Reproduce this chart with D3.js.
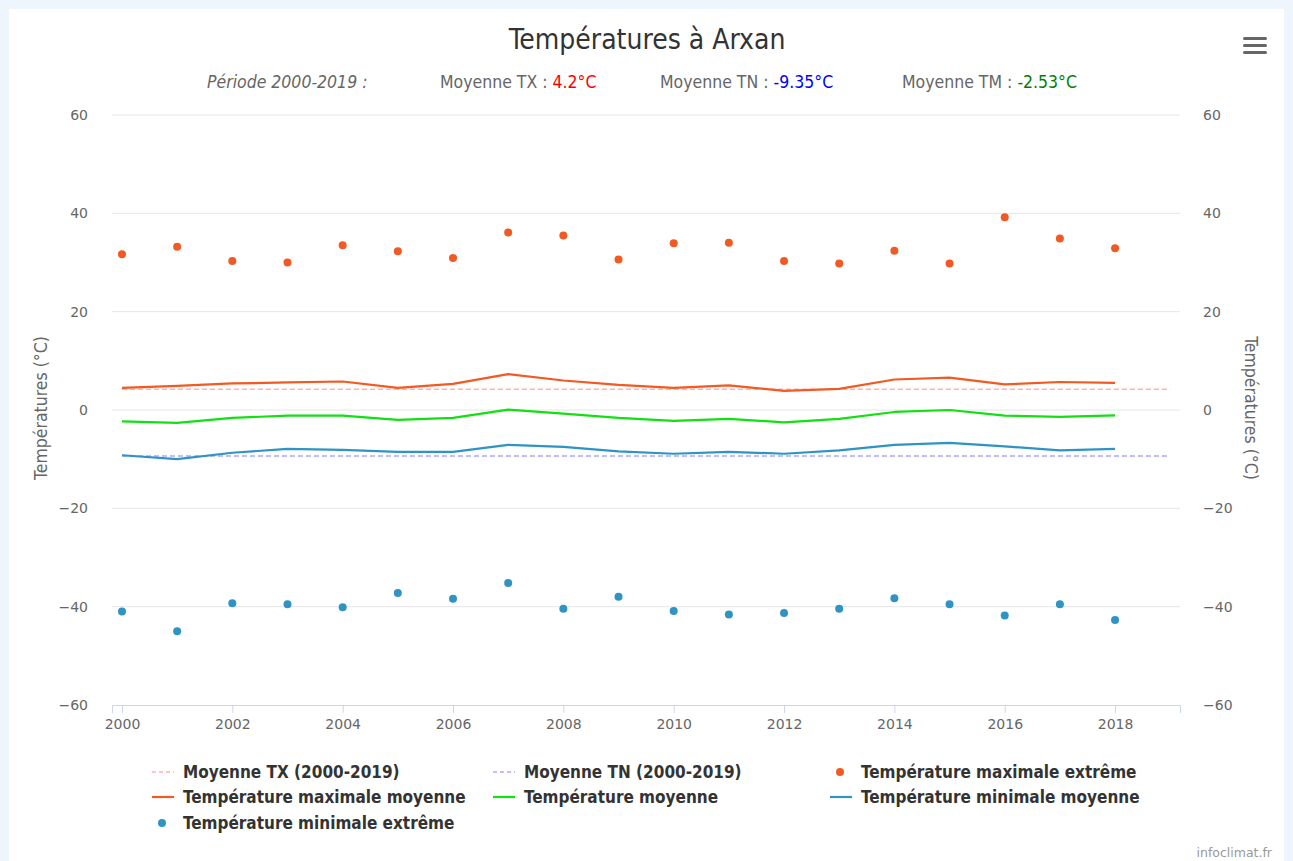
<!DOCTYPE html>
<html><head><meta charset="utf-8">
<script src="https://cdn.jsdelivr.net/npm/d3@7"></script>
<style>
html,body{margin:0;padding:0;background:#eef5fd;}
svg{display:block;}
</style></head>
<body>
<svg id="chart" width="1293" height="861"></svg>
<script>
const years = [2000,2001,2002,2003,2004,2005,2006,2007,2008,2009,2010,2011,2012,2013,2014,2015,2016,2017,2018];
const txExtreme = [31.7,33.2,30.3,30.0,33.5,32.3,30.9,36.1,35.5,30.6,33.9,34.0,30.3,29.8,32.4,29.8,39.2,34.9,32.9];
const txMean    = [4.5,4.9,5.4,5.6,5.8,4.5,5.3,7.3,6.0,5.1,4.5,5.0,3.9,4.3,6.2,6.6,5.2,5.7,5.5];
const tmMean    = [-2.3,-2.6,-1.6,-1.15,-1.15,-2.0,-1.6,0.07,-0.75,-1.6,-2.2,-1.8,-2.5,-1.8,-0.4,0.0,-1.15,-1.4,-1.1];
const tnMean    = [-9.2,-10.0,-8.7,-7.9,-8.1,-8.5,-8.5,-7.1,-7.5,-8.4,-8.9,-8.5,-8.9,-8.2,-7.1,-6.7,-7.4,-8.2,-7.9];
const tnExtreme = [-41.0,-45.0,-39.3,-39.5,-40.1,-37.2,-38.4,-35.2,-40.4,-38.0,-40.9,-41.6,-41.3,-40.4,-38.3,-39.5,-41.8,-39.5,-42.7];
const avgPeriod = [2000,2019];
const avgTX = 4.2, avgTN = -9.35, avgTM = -2.53;
const yTicks = [-60,-40,-20,0,20,40,60];
const xTicks = [2000,2002,2004,2006,2008,2010,2012,2014,2016,2018];
const titleText = "Températures à Arxan";
const axisTitle = "Températures (°C)";

const C = {tx:"#f15a22", tm:"#11e011", tn:"#2f93c4", avgTX:"#ffb0b0", avgTN:"#aaaaff"};
const condensed = "'DejaVu Sans Condensed','DejaVu Sans',sans-serif";

const svg = d3.select("#chart");
svg.append("rect").attr("x",9).attr("y",9).attr("width",1275).attr("height",852).attr("fill","#fff");

const L=112, R=1180, T=115, B=705;
const x = d3.scaleLinear().domain([1999.819, 2019.177]).range([L,R]);
const y = d3.scaleLinear().domain([-60,60]).range([B,T]);

// gridlines
svg.append("g").selectAll("line").data(yTicks.filter(d=>d>-60)).join("line")
  .attr("x1",L).attr("x2",R).attr("y1",d=>y(d)).attr("y2",d=>y(d))
  .attr("stroke","#e6e6e6").attr("stroke-width",1);

// x axis
const xAxis = d3.axisBottom(x).tickValues(xTicks).tickFormat(d3.format("d")).tickSizeOuter(0).tickSize(8);
const gx = svg.append("g").attr("transform",`translate(0,${B})`).call(xAxis);
gx.select(".domain").attr("stroke","#ccd6eb");
gx.selectAll(".tick line").attr("stroke","#ccd6eb");
gx.selectAll("text").attr("fill","#666").attr("font-size",14).attr("font-family","'DejaVu Sans',sans-serif").attr("dy","0.9em");

// y axes
const fmt = d => d3.format("d")(d);
const yl = d3.axisLeft(y).tickValues(yTicks).tickSize(0).tickFormat(fmt);
const gyl = svg.append("g").attr("transform",`translate(${L-21},0)`).call(yl);
gyl.select(".domain").remove();
gyl.selectAll("text").attr("fill","#666").attr("font-size",14).attr("font-family","'DejaVu Sans',sans-serif");
const yr = d3.axisRight(y).tickValues(yTicks).tickSize(0).tickFormat(fmt);
const gyr = svg.append("g").attr("transform",`translate(${R+20},0)`).call(yr);
gyr.select(".domain").remove();
gyr.selectAll("text").attr("fill","#666").attr("font-size",14).attr("font-family","'DejaVu Sans',sans-serif");

svg.append("text").attr("transform",`translate(47,${y(0)-2}) rotate(-90)`).attr("text-anchor","middle")
  .attr("font-family",condensed).attr("font-size",17.5).attr("fill","#666").text(axisTitle);
svg.append("text").attr("transform",`translate(1245,${y(0)-2}) rotate(90)`).attr("text-anchor","middle")
  .attr("font-family",condensed).attr("font-size",17.5).attr("fill","#666").text(axisTitle);

// average dashed lines
const avgLine = d3.line().x(d=>x(d[0])).y(d=>y(d[1]));
svg.append("path").datum(avgPeriod.map(p=>[p,avgTX])).attr("d",avgLine)
  .attr("fill","none").attr("stroke",C.avgTX).attr("stroke-width",1.5).attr("stroke-dasharray","5,3");
svg.append("path").datum(avgPeriod.map(p=>[p,avgTN])).attr("d",avgLine)
  .attr("fill","none").attr("stroke",C.avgTN).attr("stroke-width",1.5).attr("stroke-dasharray","5,3");

// series lines
const line = d3.line().x((d,i)=>x(years[i])).y(d=>y(d));
[[txMean,C.tx],[tmMean,C.tm],[tnMean,C.tn]].forEach(([s,c])=>{
  svg.append("path").datum(s).attr("d",line).attr("fill","none").attr("stroke",c).attr("stroke-width",2.2).attr("stroke-linejoin","round");
});

// dots
[[txExtreme,C.tx],[tnExtreme,C.tn]].forEach(([s,c])=>{
  svg.append("g").selectAll("circle").data(s).join("circle")
    .attr("cx",(d,i)=>x(years[i])).attr("cy",d=>y(d)).attr("r",4).attr("fill",c);
});

// title
svg.append("text").attr("x",647).attr("y",49).attr("text-anchor","middle")
  .attr("font-family",condensed).attr("font-size",28).attr("fill","#333").text(titleText);

// subtitle
const sub = svg.append("g").attr("font-family",condensed).attr("font-size",17.5);
sub.append("text").attr("x",207).attr("y",88).attr("fill","#666").attr("font-style","italic").text("Période 2000-2019 :");
function subItem(xp,label,val,col){
  const t = sub.append("text").attr("x",xp).attr("y",88).attr("fill","#666");
  t.append("tspan").text(label);
  t.append("tspan").attr("fill",col).text(val);
}
subItem(440,"Moyenne TX : ",avgTX+"°C","#ff0000");
subItem(660,"Moyenne TN : ",avgTN+"°C","#0000ff");
subItem(902,"Moyenne TM : ",avgTM+"°C","#008000");

// legend
const legendItems = [
  {label:"Moyenne TX (2000-2019)", type:"dash", color:C.avgTX, col:0,row:0},
  {label:"Moyenne TN (2000-2019)", type:"dash", color:C.avgTN, col:1,row:0},
  {label:"Température maximale extrême", type:"dot", color:C.tx, col:2,row:0},
  {label:"Température maximale moyenne", type:"line", color:C.tx, col:0,row:1},
  {label:"Température moyenne", type:"line", color:C.tm, col:1,row:1},
  {label:"Température minimale moyenne", type:"line", color:C.tn, col:2,row:1},
  {label:"Température minimale extrême", type:"dot", color:C.tn, col:0,row:2},
];
const colX=[152,493,830], rowY=[772,797,823];
const lg = svg.append("g");
legendItems.forEach(it=>{
  const gx0=colX[it.col], gy0=rowY[it.row];
  const g = lg.append("g").attr("transform",`translate(${gx0},${gy0})`);
  if(it.type==="dot"){
    g.append("circle").attr("cx",10).attr("cy",0).attr("r",4).attr("fill",it.color);
  } else {
    g.append("line").attr("x1",0).attr("x2",22).attr("y1",0).attr("y2",0).attr("stroke",it.color)
      .attr("stroke-width",it.type==="dash"?1.5:2.2).attr("stroke-dasharray",it.type==="dash"?"4,3":null);
  }
  g.append("text").attr("x",31).attr("y",6).attr("font-family",condensed).attr("font-weight","bold")
    .attr("font-size",17).attr("fill","#333").text(it.label);
});

// menu icon
svg.append("g").selectAll("rect").data([0,1,2]).join("rect")
  .attr("x",1243).attr("y",d=>37+d*7).attr("width",24).attr("height",3).attr("rx",1.5).attr("fill","#666");

// credits
svg.append("text").attr("x",1272).attr("y",857).attr("text-anchor","end")
  .attr("font-family","'DejaVu Sans',sans-serif").attr("font-size",12.5).attr("fill","#999").text("infoclimat.fr");
</script>
</body></html>
